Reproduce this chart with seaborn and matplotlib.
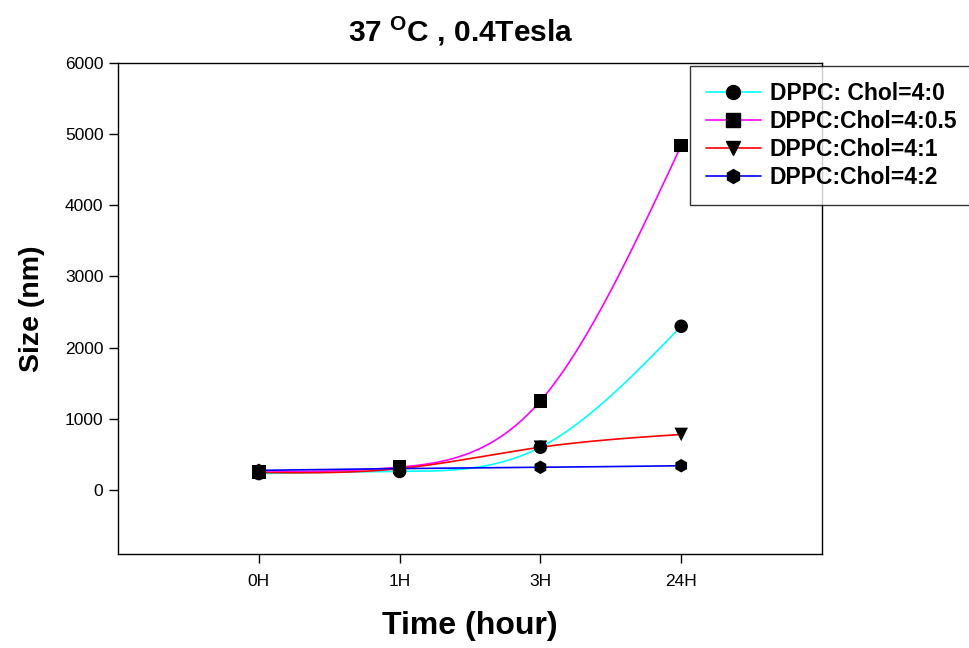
import numpy as np
import pandas as pd
import matplotlib
matplotlib.use("Agg")
import matplotlib.pyplot as plt
import seaborn as sns
from matplotlib.lines import Line2D

# data
times = ["0H", "1H", "3H", "24H"]
chol_4_0 = [230, 260, 600, 2300]
chol_4_05 = [250, 320, 1250, 4840]
chol_4_1 = [245, 300, 600, 780]
chol_4_2 = [275, 300, 318, 340]

series_names = ["DPPC: Chol=4:0", "DPPC:Chol=4:0.5", "DPPC:Chol=4:1", "DPPC:Chol=4:2"]
series_vals = [chol_4_0, chol_4_05, chol_4_1, chol_4_2]
colors = ["#00FFFF", "#FF00FF", "#FF0000", "#0000FF"]
markers = ["o", "s", "v", "h"]


# natural cubic spline, used only to draw the smooth connecting curve
def natural_spline(x, y, n=200):
    x = np.asarray(x, float)
    y = np.asarray(y, float)
    k = len(x)
    h = np.diff(x)
    A = np.zeros((k, k))
    b = np.zeros(k)
    A[0, 0] = 1
    A[-1, -1] = 1
    for i in range(1, k - 1):
        A[i, i - 1] = h[i - 1]
        A[i, i] = 2 * (h[i - 1] + h[i])
        A[i, i + 1] = h[i]
        b[i] = 3 * ((y[i + 1] - y[i]) / h[i] - (y[i] - y[i - 1]) / h[i - 1])
    c = np.linalg.solve(A, b)
    xs = np.linspace(x[0], x[-1], n)
    ys = np.empty_like(xs)
    for j, xv in enumerate(xs):
        i = min(np.searchsorted(x, xv, side="right") - 1, k - 2)
        d = (c[i + 1] - c[i]) / (3 * h[i])
        bb = (y[i + 1] - y[i]) / h[i] - h[i] * (2 * c[i] + c[i + 1]) / 3
        t = xv - x[i]
        ys[j] = y[i] + bb * t + c[i] * t ** 2 + d * t ** 3
    return xs, ys


sns.set_style("ticks")
plt.rcParams["font.family"] = ["Liberation Sans", "DejaVu Sans"]
plt.rcParams["mathtext.fontset"] = "custom"
plt.rcParams["mathtext.rm"] = "Liberation Sans"
plt.rcParams["mathtext.bf"] = "Liberation Sans:bold"
plt.rcParams["text.color"] = "black"
plt.rcParams["axes.labelcolor"] = "black"
plt.rcParams["xtick.color"] = "black"
plt.rcParams["ytick.color"] = "black"

fig = plt.figure(figsize=(9.69, 6.48), dpi=100)
ax = fig.add_axes([0.1218, 0.1451, 0.7265, 0.7577])

pos = np.arange(len(times))
curves = []
points = []
for name, vals in zip(series_names, series_vals):
    xs, ys = natural_spline(pos, vals)
    curves.append(pd.DataFrame({"x": xs, "y": ys, "series": name}))
    points.append(pd.DataFrame({"x": pos, "y": vals, "series": name}))
curves = pd.concat(curves)
points = pd.concat(points)

palette = dict(zip(series_names, colors))
marker_map = dict(zip(series_names, markers))

sns.lineplot(data=curves, x="x", y="y", hue="series", palette=palette,
             linewidth=1.2, legend=False, ax=ax, sort=False, estimator=None)
sns.scatterplot(data=points, x="x", y="y", style="series", markers=marker_map,
                color="black", s=95, edgecolor="black", linewidth=0,
                legend=False, ax=ax, zorder=5)

ax.set_xlim(-1, 4)
ax.set_ylim(-900, 6000)
ax.set_xticks(pos)
ax.set_xticklabels(times)
ax.set_yticks(range(0, 6001, 1000))
ax.tick_params(labelsize=12.5, direction="out", length=6.5, color="black", width=1, pad=4)
ax.tick_params(axis="x", pad=8)
for s in ax.spines.values():
    s.set_color("black")
    s.set_linewidth(1)

ax.set_xlabel("Time (hour)", fontsize=23, fontweight="bold", labelpad=16)
ax.set_ylabel("Size (nm)", fontsize=20.5, fontweight="bold", labelpad=14)
fig.text(461 / 969, 1 - 31 / 648, r"37 $^{\mathbf{O}}$C , 0.4Tesla", fontsize=21.5,
         fontweight="bold", ha="center", va="center")

handles = [Line2D([0], [0], color=c, marker=m, markersize=10, markerfacecolor="black",
                  markeredgecolor="black", linewidth=1.2)
           for c, m in zip(colors, markers)]
leg = fig.legend(handles, series_names, loc="upper left",
                 bbox_to_anchor=(690 / 969, 1 - 66 / 648),
                 prop={"weight": "bold", "size": 16.5}, frameon=True, fancybox=False,
                 handlelength=2.4, labelspacing=0.23, borderpad=0.68, handletextpad=0.4,
                 borderaxespad=0)
leg.get_frame().set_edgecolor("black")
leg.get_frame().set_linewidth(1)

fig.savefig("out.png", dpi=100)
